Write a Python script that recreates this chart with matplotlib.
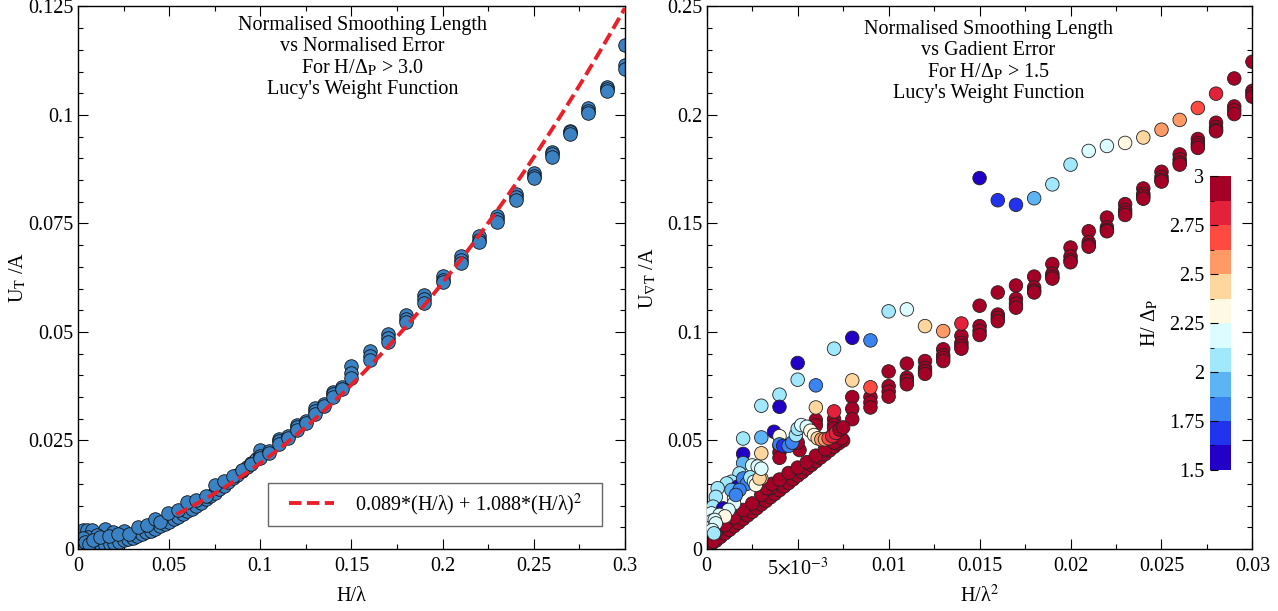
import numpy as np
import matplotlib
matplotlib.use("Agg")
import matplotlib.pyplot as plt
from matplotlib.colors import ListedColormap, BoundaryNorm
from matplotlib.patches import Rectangle
from matplotlib.ticker import MultipleLocator, FixedLocator, FixedFormatter

plt.rcParams['font.family'] = ['Liberation Serif', 'DejaVu Serif']
plt.rcParams['mathtext.fontset'] = 'stix'

# ---------------- left panel data ----------------
# dense lower band
lx_band = [0.002, 0.004, 0.006, 0.008, 0.01, 0.0125, 0.015, 0.0175, 0.02, 0.0225,
           0.025, 0.0275, 0.03, 0.0325, 0.035, 0.0375, 0.04, 0.0425, 0.045, 0.0475,
           0.05, 0.0525, 0.055, 0.0575, 0.06, 0.0625, 0.065, 0.0675, 0.07, 0.0725,
           0.075, 0.0775, 0.08, 0.0825, 0.085, 0.0875, 0.09, 0.0925, 0.095, 0.0975, 0.1]
ly_band = [0.0002, 0.0003, 0.0004, 0.0005, 0.0006, 0.0008, 0.0010, 0.0012, 0.0014, 0.0017,
           0.0020, 0.0023, 0.0026, 0.0030, 0.0034, 0.0038, 0.0042, 0.0047, 0.0052, 0.0057,
           0.0062, 0.0068, 0.0074, 0.0080, 0.0087, 0.0093, 0.0100, 0.0107, 0.0115, 0.0122,
           0.0130, 0.0138, 0.0146, 0.0154, 0.0163, 0.0171, 0.0180, 0.0189, 0.0198, 0.0207, 0.0216]

# scattered points / clusters
lx_pts = [0.003, 0.005, 0.0075, 0.0148, 0.0057, 0.0103, 0.0194, 0.025, 0.003, 0.004,
          0.006, 0.008, 0.012, 0.017, 0.022, 0.028, 0.033, 0.0377, 0.0423, 0.045,
          0.0496, 0.055, 0.0597, 0.065, 0.07, 0.075, 0.08, 0.085, 0.09, 0.095,
          0.1, 0.1, 0.1, 0.105, 0.105, 0.11, 0.11, 0.11, 0.115, 0.115,
          0.12, 0.12, 0.12, 0.125, 0.125, 0.13, 0.13, 0.13, 0.135, 0.135,
          0.14, 0.14, 0.14, 0.145, 0.145, 0.15, 0.15, 0.15,
          0.16, 0.16, 0.16, 0.17, 0.17, 0.17, 0.18, 0.18, 0.18, 0.19, 0.19, 0.19,
          0.2, 0.2, 0.2, 0.21, 0.21, 0.21, 0.22, 0.22, 0.22, 0.23, 0.23, 0.23,
          0.24, 0.24, 0.24, 0.25, 0.25, 0.25, 0.26, 0.26, 0.26, 0.27, 0.27, 0.27,
          0.28, 0.28, 0.28, 0.29, 0.29, 0.29, 0.3, 0.3, 0.3]
ly_pts = [0.0044, 0.0044, 0.0044, 0.0045, 0.0028, 0.0032, 0.0040, 0.0042, 0.0025, 0.0015,
          0.0012, 0.0020, 0.0028, 0.0030, 0.0035, 0.0035, 0.0050, 0.0055, 0.0068, 0.0062,
          0.0084, 0.0089, 0.0109, 0.0113, 0.0123, 0.0147, 0.0156, 0.0168, 0.0183, 0.0196,
          0.0228, 0.0215, 0.0210, 0.0225, 0.0220, 0.0254, 0.0248, 0.0241, 0.0260, 0.0255,
          0.0286, 0.0280, 0.0275, 0.0296, 0.0290, 0.0324, 0.0318, 0.0312, 0.0335, 0.0330,
          0.0362, 0.0356, 0.0350, 0.0373, 0.0368, 0.0422, 0.0405, 0.0395,
          0.0457, 0.0445, 0.0436, 0.0495, 0.0485, 0.0478, 0.0539, 0.0530, 0.0522, 0.0585, 0.0575, 0.0567,
          0.0629, 0.0620, 0.0614, 0.0674, 0.0665, 0.0659, 0.0721, 0.0713, 0.0707, 0.0768, 0.0760, 0.0754,
          0.0817, 0.0810, 0.0804, 0.0866, 0.0860, 0.0854, 0.0915, 0.0910, 0.0904, 0.0964, 0.0960, 0.0955,
          0.1016, 0.1010, 0.1004, 0.1064, 0.1060, 0.1055, 0.1160, 0.1115, 0.1105]

fit_a, fit_b = 0.089, 1.088
fit_x0, fit_x1 = 0.054, 0.3

lx_ticks = [0, 0.05, 0.1, 0.15, 0.2, 0.25, 0.3]
lx_labels = ['0', '0.05', '0.1', '0.15', '0.2', '0.25', '0.3']
ly_ticks = [0, 0.025, 0.05, 0.075, 0.1, 0.125]
ly_labels = ['0', '0.025', '0.05', '0.075', '0.1', '0.125']

# ---------------- right panel data ----------------
# points with H/dp >= 3 (dark red)
rx_red = [0.00025, 0.0005, 0.00075, 0.001, 0.00125, 0.0015, 0.00175, 0.002, 0.00225, 0.0025,
          0.00275, 0.003, 0.00325, 0.0035, 0.00375, 0.004, 0.00425, 0.0045, 0.00475, 0.005,
          0.00525, 0.0055, 0.00575, 0.006, 0.00625, 0.0065, 0.00675, 0.007, 0.00725, 0.0075,
          0.0005, 0.001, 0.0015, 0.002, 0.0025, 0.003, 0.0035,
          0.0033, 0.0036, 0.004, 0.0045, 0.005, 0.0055, 0.006, 0.0065, 0.007, 0.0074,
          0.00035, 0.004, 0.004, 0.004, 0.0051, 0.005, 0.006, 0.006, 0.007, 0.007, 0.007,
          0.008, 0.008, 0.008, 0.009, 0.009, 0.009, 0.01, 0.01, 0.01, 0.01,
          0.011, 0.011, 0.011, 0.011, 0.012, 0.012, 0.012, 0.012, 0.013, 0.013, 0.013, 0.013,
          0.014, 0.014, 0.014, 0.014, 0.015, 0.015, 0.015, 0.015, 0.016, 0.016, 0.016, 0.016,
          0.017, 0.017, 0.017, 0.017, 0.018, 0.018, 0.018, 0.018, 0.019, 0.019, 0.019, 0.019,
          0.02, 0.02, 0.02, 0.02, 0.021, 0.021, 0.021, 0.021, 0.022, 0.022, 0.022, 0.022,
          0.023, 0.023, 0.023, 0.023, 0.024, 0.024, 0.024, 0.024, 0.025, 0.025, 0.025, 0.025,
          0.026, 0.026, 0.026, 0.026, 0.027, 0.027, 0.027, 0.027, 0.028, 0.028, 0.028, 0.028,
          0.029, 0.029, 0.029, 0.03, 0.03, 0.03]
ry_red = [0.0022, 0.0038, 0.0055, 0.0072, 0.0088, 0.0105, 0.0121, 0.0138, 0.0155, 0.0171,
          0.0188, 0.0205, 0.0221, 0.0238, 0.0254, 0.0271, 0.0288, 0.0304, 0.0321, 0.0338,
          0.0354, 0.0371, 0.0387, 0.0404, 0.0421, 0.0437, 0.0454, 0.0471, 0.0487, 0.0500,
          0.008, 0.011, 0.0145, 0.018, 0.021, 0.025, 0.028,
          0.028, 0.030, 0.032, 0.035, 0.0375, 0.040, 0.043, 0.046, 0.049, 0.051,
          0.0034, 0.0475, 0.0445, 0.042, 0.0456, 0.049, 0.0594, 0.057, 0.0598, 0.0571, 0.0555,
          0.0700, 0.0646, 0.0598, 0.0700, 0.0675, 0.0652, 0.0818, 0.0750, 0.0725, 0.0702,
          0.0854, 0.0789, 0.0775, 0.0759, 0.0866, 0.0834, 0.0820, 0.0807, 0.0920, 0.0893, 0.0880, 0.0866,
          0.0982, 0.0950, 0.0935, 0.0923, 0.1121, 0.1027, 0.1005, 0.0986, 0.1182, 0.1080, 0.1065, 0.1050,
          0.1214, 0.1152, 0.1130, 0.1112, 0.1255, 0.1205, 0.1190, 0.1182, 0.1313, 0.1268, 0.1255, 0.1246,
          0.1389, 0.1348, 0.1330, 0.1321, 0.1464, 0.1414, 0.1400, 0.1393, 0.1527, 0.1482, 0.1470, 0.1464,
          0.1589, 0.1563, 0.1550, 0.1539, 0.1661, 0.1636, 0.1625, 0.1614, 0.1738, 0.1714, 0.1700, 0.1693,
          0.1818, 0.1795, 0.1780, 0.1771, 0.1889, 0.1871, 0.1860, 0.1848, 0.1964, 0.1943, 0.1930, 0.1925,
          0.2039, 0.2021, 0.2004, 0.2111, 0.2098, 0.2084]

# points with 1.5 < H/dp < 3 (coloured by H/dp)
rx_col = [0.015, 0.016, 0.017, 0.018, 0.019, 0.02, 0.021, 0.022, 0.023, 0.024, 0.025, 0.026, 0.027, 0.028, 0.029, 0.03,
          0.01, 0.011, 0.012, 0.013, 0.014, 0.007, 0.008, 0.009,
          0.005, 0.005, 0.006, 0.008, 0.009, 0.004, 0.004, 0.003, 0.006, 0.007,
          0.002, 0.003, 0.0037, 0.002, 0.003, 0.002, 0.0025, 0.0028, 0.003, 0.004, 0.004,
          0.0042, 0.0045, 0.0047, 0.0049, 0.005, 0.0052, 0.0055, 0.0057, 0.0059, 0.0061, 0.0063,
          0.0065, 0.0067, 0.0069, 0.0071, 0.0073, 0.0075,
          0.0018, 0.00136, 0.0011, 0.0006, 0.0005, 0.00035, 0.00026, 0.0003, 0.0003,
          0.0017, 0.0009, 0.002, 0.0022, 0.0024, 0.0026, 0.0027, 0.0029, 0.003,
          0.0015, 0.0015, 0.0012, 0.0007, 0.001, 0.00044, 0.0005, 0.0003, 0.0004,
          0.00136, 0.0018, 0.0016]
ry_col = [0.1709, 0.1607, 0.1586, 0.1616, 0.1680, 0.1771, 0.1834, 0.1857, 0.1871, 0.1896, 0.1932, 0.1977, 0.2032, 0.2098, 0.2168, 0.2245,
          0.1095, 0.1104, 0.1027, 0.1004, 0.1039, 0.0923, 0.0973, 0.0961,
          0.0857, 0.0780, 0.0754, 0.0777, 0.0745, 0.0711, 0.0655, 0.0660, 0.0652, 0.0634,
          0.0509, 0.0514, 0.0540, 0.0438, 0.0441, 0.0396, 0.0385, 0.0380, 0.0325, 0.0520, 0.0482,
          0.0475, 0.0475, 0.0490, 0.0525, 0.0554, 0.0571, 0.0563, 0.0545, 0.0525, 0.0510, 0.0505,
          0.0505, 0.0510, 0.0520, 0.0535, 0.0550, 0.0560,
          0.0348, 0.0310, 0.0302, 0.0280, 0.0240, 0.0195, 0.0164, 0.0130, 0.0103,
          0.0287, 0.0187, 0.0325, 0.0300, 0.0330, 0.0310, 0.0295, 0.0325, 0.0370,
          0.0233, 0.0210, 0.0180, 0.0157, 0.0150, 0.0134, 0.0118, 0.0087, 0.0072,
          0.0272, 0.0272, 0.0249]
rc_col = [1.55, 1.65, 1.72, 1.9, 2.0, 2.1, 2.15, 2.2, 2.3, 2.4, 2.55, 2.6, 2.7, 2.8, 2.95, 3.0,
          2.1, 2.15, 2.4, 2.5, 2.75, 2.1, 1.6, 1.85,
          1.6, 2.1, 1.85, 2.4, 2.7, 2.1, 1.6, 2.1, 2.4, 2.75,
          2.1, 1.9, 1.6, 1.6, 2.4, 1.9, 2.15, 2.2, 2.4, 2.35, 1.75,
          1.7, 1.75, 1.85, 2.0, 2.1, 2.15, 2.2, 2.25, 2.35, 2.45, 2.55,
          2.6, 2.7, 2.75, 2.85, 2.9, 3.0,
          2.1, 2.1, 2.1, 2.1, 2.1, 2.1, 2.2, 2.2, 2.2,
          1.6, 1.6, 1.8, 1.75, 2.1, 2.2, 2.3, 2.4, 2.2,
          2.3, 2.2, 2.2, 2.15, 2.25, 2.15, 2.2, 2.2, 2.1,
          1.9, 1.8, 1.85]

rx_ticks = [0, 0.005, 0.01, 0.015, 0.02, 0.025, 0.03]
rx_labels = ['0', r'5$\times$10$^{-3}$', '0.01', '0.015', '0.02', '0.025', '0.03']
ry_ticks = [0, 0.05, 0.1, 0.15, 0.2, 0.25]
ry_labels = ['0', '0.05', '0.1', '0.15', '0.2', '0.25']

cb_colors = ['#2200c8', '#2233f0', '#3a84f2', '#5cb4f5', '#a2e8fc', '#ddfcff',
             '#fff8e2', '#ffd79e', '#ff9a66', '#ff4a42', '#e4213a', '#a50026']
cb_bounds = [1.5, 1.625, 1.75, 1.875, 2.0, 2.125, 2.25, 2.375, 2.5, 2.625, 2.75, 2.875, 3.0]
cb_ticks = [1.5, 1.75, 2, 2.25, 2.5, 2.75, 3]
cb_labels = ['1.5', '1.75', '2', '2.25', '2.5', '2.75', '3']

cmap = ListedColormap(cb_colors)
norm = BoundaryNorm(cb_bounds, cmap.N, clip=True)

fig = plt.figure(figsize=(12.78, 6.11), dpi=100)
ax1 = fig.add_axes([0.061, 0.1015, 0.428, 0.888])
ax2 = fig.add_axes([0.553, 0.1015, 0.427, 0.888])

fs = 14.5
for ax in (ax1, ax2):
    ax.tick_params(which='both', direction='in', top=True, right=True, labelsize=fs)
    ax.tick_params(axis='y', pad=3)
    ax.tick_params(axis='x', pad=6)
    ax.tick_params(which='major', length=7, width=0.8)
    ax.tick_params(which='minor', length=3.5, width=0.8)
    for s in ax.spines.values():
        s.set_linewidth(1.0)

# left panel
ax1.scatter(lx_band, ly_band, s=95, c='#3b82c4', edgecolors='#111111', linewidths=0.6, zorder=2)
ax1.scatter(lx_pts, ly_pts, s=95, c='#3b82c4', edgecolors='#111111', linewidths=0.6, zorder=2)
xf = np.linspace(fit_x0, fit_x1, 200)
ax1.plot(xf, fit_a * xf + fit_b * xf ** 2, color='#e8202a', lw=2.8, linestyle=(0, (3.2, 1.4)),
         label=r'0.089*(H/λ) + 1.088*(H/λ)$^2$', zorder=3)
ax1.set_xlim(0, 0.3)
ax1.set_ylim(0, 0.125)
ax1.xaxis.set_major_locator(FixedLocator(lx_ticks))
ax1.xaxis.set_major_formatter(FixedFormatter(lx_labels))
ax1.xaxis.set_minor_locator(MultipleLocator(0.025))
ax1.yaxis.set_major_locator(FixedLocator(ly_ticks))
ax1.yaxis.set_major_formatter(FixedFormatter(ly_labels))
ax1.yaxis.set_minor_locator(MultipleLocator(0.005))
ax1.set_xlabel('H/λ', fontsize=fs, labelpad=8)
ax1.set_ylabel(r'U$_\mathrm{T}$ /A', fontsize=fs)
ax1.yaxis.set_label_coords(-0.09, 0.5)
ax1.text(0.52, 0.982, "Normalised Smoothing Length\nvs Normalised Error\nFor H/Δ$_\\mathrm{P}$ > 3.0\nLucy's Weight Function",
         transform=ax1.transAxes, ha='center', va='top', fontsize=fs, linespacing=1.12)
# legend box (square frame) and legend entry
ax1.add_patch(Rectangle((0.347, 0.042), 0.611, 0.079, transform=ax1.transAxes, facecolor='white',
                        edgecolor='#666666', linewidth=1.0, zorder=4))
leg = ax1.legend(loc='center left', bbox_to_anchor=(0.385, 0.0815), fontsize=fs, frameon=False,
                 handlelength=2.25, handletextpad=1.05, borderpad=0, borderaxespad=0)
leg.set_zorder(5)

# right panel
ax2.scatter(rx_red, ry_red, s=95, c=[3.0] * len(rx_red), cmap=cmap, norm=norm,
            edgecolors='#222222', linewidths=0.6, zorder=2)
sc = ax2.scatter(rx_col, ry_col, s=95, c=rc_col, cmap=cmap, norm=norm,
                 edgecolors='#222222', linewidths=0.6, zorder=3)
ax2.set_xlim(0, 0.03)
ax2.set_ylim(0, 0.25)
ax2.xaxis.set_major_locator(FixedLocator(rx_ticks))
ax2.xaxis.set_major_formatter(FixedFormatter(rx_labels))
ax2.xaxis.set_minor_locator(MultipleLocator(0.0025))
ax2.yaxis.set_major_locator(FixedLocator(ry_ticks))
ax2.yaxis.set_major_formatter(FixedFormatter(ry_labels))
ax2.yaxis.set_minor_locator(MultipleLocator(0.01))
ax2.set_xlabel(r'H/λ$^2$', fontsize=fs, labelpad=4)
ax2.set_ylabel(r'U$_{\nabla\mathrm{T}}$ /A', fontsize=fs)
ax2.yaxis.set_label_coords(-0.088, 0.5)
ax2.text(0.516, 0.975, "Normalised Smoothing Length\nvs Gadient Error\nFor H/Δ$_\\mathrm{P}$ > 1.5\nLucy's Weight Function",
         transform=ax2.transAxes, ha='center', va='top', fontsize=fs, linespacing=1.12)

cax = fig.add_axes([0.9468, 0.2308, 0.0164, 0.481])
cb = fig.colorbar(sc, cax=cax, ticks=cb_ticks)
cb.outline.set_visible(False)
cax.yaxis.set_ticks_position('left')
cax.yaxis.set_label_position('left')
cax.yaxis.set_major_formatter(FixedFormatter(cb_labels))
cax.yaxis.set_minor_locator(FixedLocator(cb_bounds))
cax.tick_params(which='both', direction='in', labelsize=fs, left=True, right=False, pad=4)
cax.tick_params(which='major', length=6)
cax.tick_params(which='minor', length=3)
cb.set_label('H/ Δ$_\\mathrm{P}$', fontsize=fs, labelpad=6)

fig.savefig('out.png', dpi=100)
